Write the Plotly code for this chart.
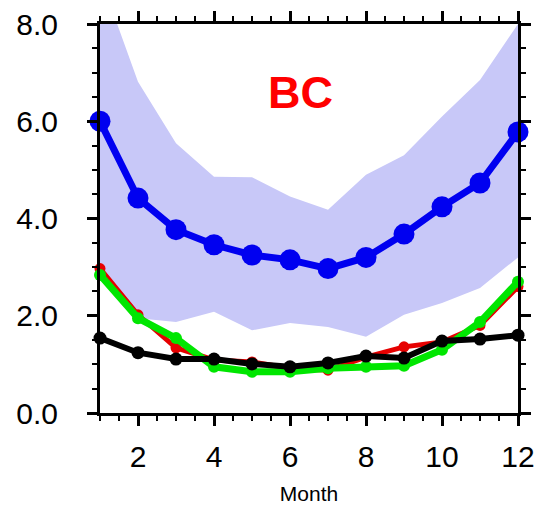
import plotly.graph_objects as go

months = list(range(1, 13))
band_upper = [8.98, 6.81, 5.55, 4.86, 4.85, 4.45, 4.18, 4.90, 5.30, 6.10, 6.85, 8.00]
band_lower = [2.80, 1.95, 1.87, 2.08, 1.70, 1.85, 1.77, 1.57, 2.02, 2.26, 2.57, 3.20]
blue_vals = [6.00, 4.42, 3.77, 3.46, 3.25, 3.15, 2.97, 3.20, 3.68, 4.24, 4.73, 5.78]
red_vals = [2.97, 2.02, 1.34, 1.09, 1.05, 0.92, 0.88, 1.15, 1.36, 1.46, 1.80, 2.60]
green_vals = [2.84, 1.95, 1.54, 0.95, 0.85, 0.85, 0.92, 0.95, 0.97, 1.30, 1.87, 2.70]
black_vals = [1.54, 1.24, 1.11, 1.11, 1.01, 0.95, 1.03, 1.17, 1.13, 1.48, 1.52, 1.60]
xticks = [2, 4, 6, 8, 10, 12]
yticks = [0, 2, 4, 6, 8]
ytick_text = ["0.0", "2.0", "4.0", "6.0", "8.0"]

fig = go.Figure()
fig.add_trace(go.Scatter(x=months, y=band_lower, mode="lines", line=dict(width=0, color="rgba(0,0,0,0)"),
                         showlegend=False, hoverinfo="skip"))
fig.add_trace(go.Scatter(x=months, y=band_upper, mode="lines", line=dict(width=0, color="rgba(0,0,0,0)"),
                         fill="tonexty", fillcolor="rgb(200,200,248)", showlegend=False, hoverinfo="skip"))
fig.add_trace(go.Scatter(x=months, y=blue_vals, mode="lines+markers", cliponaxis=False,
                         line=dict(color="rgb(0,0,240)", width=7),
                         marker=dict(color="rgb(0,0,240)", size=21), showlegend=False))
fig.add_trace(go.Scatter(x=months, y=red_vals, mode="lines+markers", cliponaxis=False,
                         line=dict(color="rgb(230,0,0)", width=5),
                         marker=dict(color="rgb(230,0,0)", size=11), showlegend=False))
fig.add_trace(go.Scatter(x=months, y=green_vals, mode="lines+markers", cliponaxis=False,
                         line=dict(color="rgb(0,230,0)", width=7),
                         marker=dict(color="rgb(0,230,0)", size=12), showlegend=False))
fig.add_trace(go.Scatter(x=months, y=black_vals, mode="lines+markers", cliponaxis=False,
                         line=dict(color="black", width=6),
                         marker=dict(color="black", size=13), showlegend=False))

fig.add_annotation(text="<b>BC</b>", x=0.48, y=0.895, xref="paper", yref="paper",
                   showarrow=False, font=dict(family="Liberation Sans, Arial", size=45, color="rgb(255,0,0)"))

axis_common = dict(showline=True, linecolor="black", linewidth=3, mirror="ticks",
                   ticks="outside", ticklen=10, tickwidth=3, tickcolor="black",
                   showgrid=False, zeroline=False, automargin=False,
                   ticklabeloverflow="allow",
                   tickfont=dict(family="Liberation Sans, Arial", size=30, color="black"))

fig.update_xaxes(range=[1, 12], tickvals=xticks, ticktext=[str(v) for v in xticks],
                 ticklabelstandoff=5,
                 minor=dict(dtick=0.5, tick0=1, ticks="outside", ticklen=5, tickwidth=2, tickcolor="black"),
                 title=dict(text="Month", font=dict(family="Liberation Sans, Arial", size=21, color="black"), standoff=15),
                 **axis_common)
fig.update_yaxes(range=[0, 8], tickvals=yticks, ticktext=ytick_text,
                 ticklabelstandoff=23,
                 minor=dict(dtick=0.5, tick0=0, ticks="outside", ticklen=5, tickwidth=2, tickcolor="black"),
                 **axis_common)

fig.update_layout(width=538, height=506, margin=dict(l=100, r=20, t=24, b=93),
                  plot_bgcolor="white", paper_bgcolor="white", showlegend=False)
fig.write_html("out.html", config={"displayModeBar": False},
               post_script="document.body.style.margin='0';document.body.style.overflow='hidden';")
